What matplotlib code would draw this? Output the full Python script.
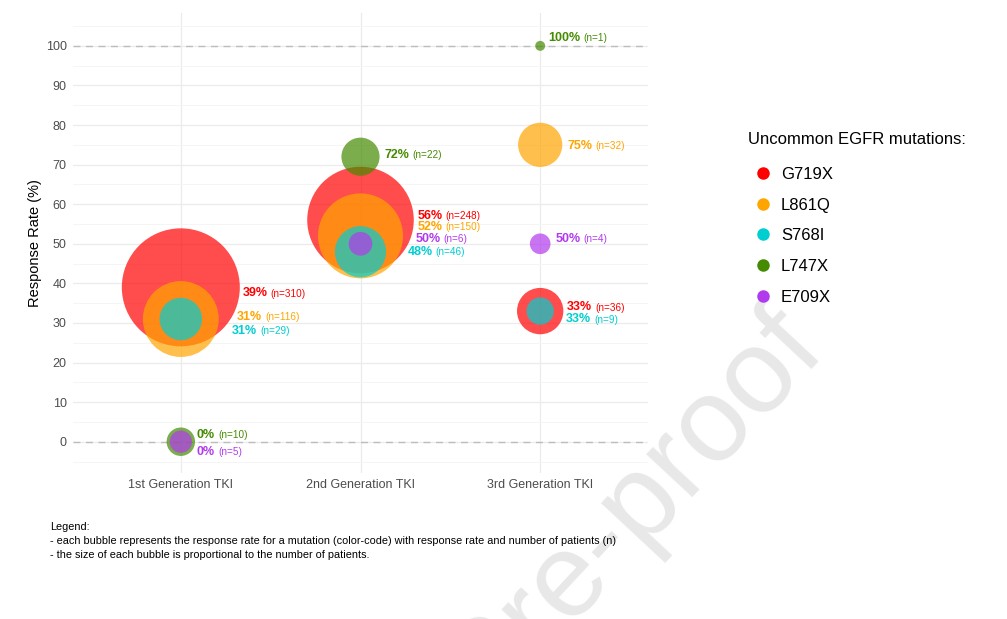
import matplotlib
matplotlib.use("Agg")
import matplotlib.pyplot as plt
from matplotlib.lines import Line2D
import numpy as np

plt.rcParams['font.family'] = ['Liberation Sans', 'DejaVu Sans']

# data
generations = ['1st Generation TKI', '2nd Generation TKI', '3rd Generation TKI']
mutations = ['G719X', 'L861Q', 'S768I', 'L747X', 'E709X']
colors = ['#FF0000', '#FFA500', '#00CED1', '#458B00', '#B23AEE']

rate_G719X = [39, 56, 33]
rate_L861Q = [31, 52, 75]
rate_S768I = [31, 48, 33]
rate_L747X = [0, 72, 100]
rate_E709X = [0, 50, 50]

n_G719X = [310, 248, 36]
n_L861Q = [116, 150, 32]
n_S768I = [29, 46, 9]
n_L747X = [10, 22, 1]
n_E709X = [5, 6, 4]

rates = [rate_G719X, rate_L861Q, rate_S768I, rate_L747X, rate_E709X]
ns = [n_G719X, n_L861Q, n_S768I, n_L747X, n_E709X]

# label offsets in pixels (dx, dy up) from bubble centre, per mutation / generation
label_off = [
    [(62, -6), (57, 4), (27, 4)],
    [(56, 2), (57, 9), (27, -1)],
    [(51, -12), (47, 0), (26, -8)],
    [(16, 7), (24, 2), (8, 8)],
    [(16, -10), (55, 5), (15, 5)],
]

nmin = min(min(v) for v in ns)
nmax = max(max(v) for v in ns)

def radius_px(n):
    return 5 + 54 * np.sqrt((n - nmin) / (nmax - nmin))

px = 0.72  # points per pixel at dpi 100

fig = plt.figure(figsize=(10.07, 6.19), dpi=100)

# watermark
fig.text(828/1007, 1-352/619, 'Journal Pre-proof', fontsize=86, color='#E8E8E8',
         rotation=47, rotation_mode='anchor', ha='right', va='baseline', zorder=-10)

ax = fig.add_axes([73/1007, 1-473/619, (648-73)/1007, (473-13)/619])
ax.set_facecolor('none')

xs = np.arange(1, len(generations)+1)
for i in range(len(mutations)):
    s = [(2*radius_px(n)*px)**2 for n in ns[i]]
    ax.scatter(xs, rates[i], s=s, color=colors[i], alpha=0.7, edgecolors='none', zorder=3+i)

for i in range(len(mutations)):
    for j in range(len(generations)):
        dx, dy = label_off[i][j]
        t = ax.annotate('%d%%' % rates[i][j], xy=(xs[j], rates[i][j]),
                        xytext=(dx*px, dy*px), textcoords='offset points',
                        ha='left', va='center', color=colors[i], fontsize=9,
                        fontweight='bold', zorder=10)
        ax.annotate('(n=%d)' % ns[i][j], xy=(1, 0.5), xycoords=t,
                    xytext=(2.2, -0.3), textcoords='offset points',
                    ha='left', va='center', color=colors[i], fontsize=7.2, zorder=10)

ax.set_xlim(0.4, 3.6)
ax.set_ylim(-7.9, 108.3)
ax.set_xticks(xs)
ax.set_xticklabels(generations)
ax.set_yticks(np.arange(0, 101, 10))
ax.set_yticks(np.arange(-5, 106, 10), minor=True)
ax.tick_params(axis='both', which='both', length=0, labelsize=9, labelcolor='#4D4D4D', pad=4.5)
ax.grid(True, which='major', color='#EBEBEB', linewidth=0.9, zorder=0)
ax.grid(True, which='minor', axis='y', color='#F4F4F4', linewidth=0.6, zorder=0)
ax.set_axisbelow(True)
for sp in ax.spines.values():
    sp.set_visible(False)
for yv in (0, 100):
    ax.axhline(yv, color='#BDBDBD', linestyle=(0, (5, 4)), linewidth=1.0, zorder=1)
ax.set_ylabel('Response Rate (%)', fontsize=10.5, labelpad=3)

fig.text(748/1007, 1-139/619, 'Uncommon EGFR mutations:', fontsize=12, va='center', ha='left')
handles = [Line2D([], [], marker='o', linestyle='none', markersize=9,
                  markerfacecolor=c, markeredgecolor='none') for c in colors]
leg = fig.legend(handles, mutations, loc='upper left', bbox_to_anchor=(754.6/1007, 1-167/619),
                 frameon=False, fontsize=12, labelspacing=0.94, handlelength=1.0,
                 handletextpad=0.58, borderaxespad=0, borderpad=0)

fig.text(50/1007, 1-522/619,
         'Legend:\n- each bubble represents the response rate for a mutation (color-code) with response rate and number of patients (n)\n- the size of each bubble is proportional to the number of patients.',
         fontsize=7.85, va='top', ha='left', linespacing=1.5)

fig.savefig('out.png', dpi=100)
